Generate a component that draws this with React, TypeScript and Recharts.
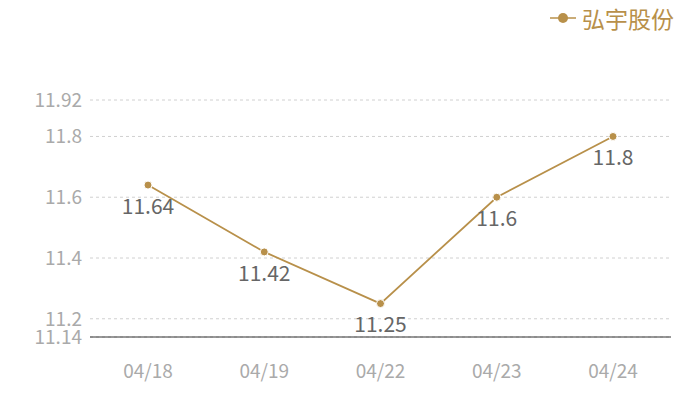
import React from 'react';
import { LineChart, Line, XAxis, YAxis, CartesianGrid, Legend, LabelList } from 'recharts';

const dates = ['04/18', '04/19', '04/22', '04/23', '04/24'];
const prices = [11.64, 11.42, 11.25, 11.6, 11.8];
const yTicks = [11.14, 11.2, 11.4, 11.6, 11.8, 11.92];
const seriesName = '弘宇股份';

const data = dates.map((d, i) => ({ date: d, price: prices[i] }));
const COLOR = '#b8904a';
const FONT = '"Noto Sans CJK SC", "Noto Sans", sans-serif';

const LegendContent = () => (
  <div style={{ display: 'flex', alignItems: 'center', fontFamily: FONT, fontSize: 23, color: COLOR, lineHeight: '28px' }}>
    <svg width={26} height={14} style={{ marginRight: 6 }}>
      <line x1={0} y1={7} x2={26} y2={7} stroke={COLOR} strokeWidth={1.5} />
      <circle cx={13} cy={7} r={5} fill={COLOR} />
    </svg>
    <span>{seriesName}</span>
  </div>
);

export default function App() {
  return (
    <div style={{ position: 'absolute', left: 0, top: 0, width: 700, height: 400, background: '#fff' }}>
      <LineChart width={700} height={400} data={data} margin={{ top: 72, right: 29, bottom: 23, left: 0 }}>
        <CartesianGrid vertical={false} stroke="#d0d0d0" strokeDasharray="3 3" />
        <XAxis
          dataKey="date"
          height={40}
          padding={{ left: 58, right: 58 }}
          axisLine={{ stroke: '#333' }}
          tickLine={false}
          tickMargin={22}
          tick={{ fill: '#aaa', fontSize: 19, fontFamily: FONT }}
        />
        <YAxis
          type="number"
          domain={[11.14, 11.92]}
          ticks={yTicks}
          width={90}
          axisLine={false}
          tickLine={false}
          interval={0}
          tick={{ fill: '#aaa', fontSize: 19, fontFamily: FONT }}
        />
        <Legend
          verticalAlign="top"
          align="right"
          content={<LegendContent />}
          wrapperStyle={{ position: 'absolute', top: 4, right: 26, left: 'auto', width: 'auto' }}
        />
        <Line
          type="linear"
          dataKey="price"
          name={seriesName}
          stroke={COLOR}
          strokeWidth={1.8}
          dot={{ r: 4, fill: COLOR, stroke: '#fff', strokeWidth: 1 }}
          isAnimationActive={false}
        >
          <LabelList dataKey="price" position="bottom" offset={14} fill="#666" fontSize={21} fontFamily={FONT} />
        </Line>
      </LineChart>
    </div>
  );
}
